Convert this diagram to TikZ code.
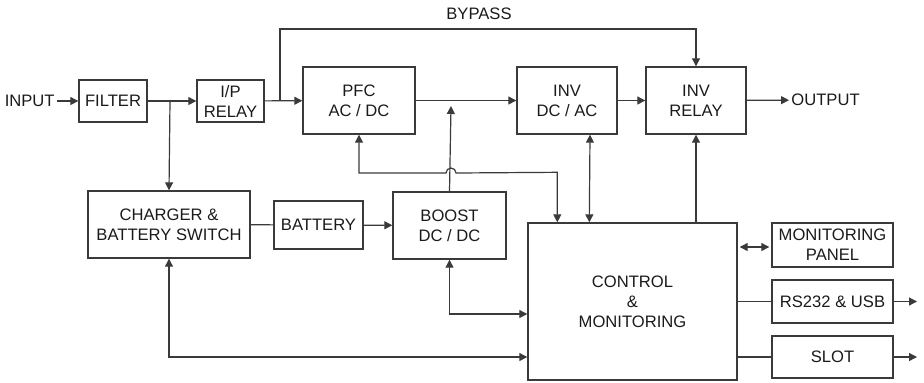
\documentclass[tikz,border=0pt]{standalone}
\usepackage{fontspec}
\setmainfont{Liberation Sans}
\usetikzlibrary{arrows.meta,positioning,calc}
\definecolor{ink}{HTML}{1A1A1A}
\definecolor{wire}{HTML}{3A3A3A}
\tikzset{
  >={Triangle[length=4pt,width=4pt]},
  every node/.style={font=\fontsize{8.3}{10}\selectfont,text=ink},
  blk/.style={draw=wire,line width=0.7pt,align=center,inner sep=0pt},
  bsize/.style 2 args={minimum width=#1*0.5pt,minimum height=#2*0.5pt},
  lbl/.style={inner sep=1pt},
  wire/.style={draw=wire,line width=0.6pt},
  arr/.style={wire,->},
  dbl/.style={wire,<->}
}

\begin{document}
\begin{tikzpicture}[x=0.5pt,y=-0.5pt]
  \useasboundingbox (0,0) rectangle (924,382);
  % power path
  \node[blk,bsize={68}{42}] (filter) at (113,101) {FILTER};
  \node[blk,bsize={67}{42}] (iprelay) at (230.5,101) {I/P\\RELAY};
  \node[blk,bsize={112}{67}] (pfc) at (359,100.5) {PFC\\AC / DC};
  \node[blk,bsize={100}{67}] (inv) at (567,100.5) {INV\\DC / AC};
  \node[blk,bsize={100}{67}] (invrelay) at (696,100.5) {INV\\RELAY};
  \node[blk,bsize={162}{67}] (charger) at (169,224.5) {CHARGER \&\\BATTERY SWITCH};
  \node[blk,bsize={89}{48}] (battery) at (318.5,225) {BATTERY};
  \node[blk,bsize={113}{67}] (boost) at (449.5,225.5) {BOOST\\DC / DC};
  % control side
  \node[blk,bsize={209}{157}] (ctrl) at (632.5,301.5) {CONTROL\\\&\\MONITORING};
  \node[blk,bsize={121}{44}] (panel) at (832.5,245) {MONITORING\\PANEL};
  \node[blk,bsize={121}{43}] (rs) at (832.5,301.5) {RS232 \& USB};
  \node[blk,bsize={121}{42}] (slot) at (832.5,357) {SLOT};

  \node[lbl,anchor=east] (input) at (57,101) {INPUT};
  \node[lbl,anchor=west] (output) at (789,100) {OUTPUT};
  \node[lbl] (bypass) at (479,14) {BYPASS};

  \coordinate (splitin) at (170,101);
  \coordinate (splitby) at (280,101);
  \coordinate (bytop) at (280,29);
  \coordinate (dcbus) at (451,106);
  \coordinate (rsout) at (917,301.5);
  \coordinate (slotout) at (917,357);

  \draw[arr] (input) -- (filter);
  \draw[arr] (filter) -- (iprelay);
  \draw[arr] (splitin) -- (charger.north);
  \draw[arr] (iprelay) -- (pfc);
  \draw[arr] (splitby) -- (bytop) -| (invrelay.north);
  \draw[arr] (pfc) -- (inv);
  \draw[arr] (inv) -- (invrelay);
  \draw[arr] (invrelay) -- (output);
  \draw[wire] (charger) -- (battery);
  \draw[arr] (battery) -- (boost);
  \draw[arr] (boost.north) -- (dcbus);

  % control links
  \draw[dbl] ($(ctrl.north west)+(30,0)$) -- ++(0,-50) -- (456,173) arc (0:-180:5)
    -| (pfc.south);
  \draw[dbl] ($(inv.south)+(23,0)$) -- ($(ctrl.north west)+(62,0)$);
  \draw[arr] (invrelay.south |- ctrl.north) -- (invrelay.south);
  \draw[dbl] (boost.south) |- ($(ctrl.west)+(0,12.5)$);
  \draw[dbl] (charger.south) |- (ctrl.west |- slot);
  \draw[dbl] ([xshift=1pt]ctrl.east |- 0,247) -- ([xshift=-1pt]panel.west |- 0,247);
  \draw[wire] (ctrl.east |- rs) -- (rs);
  \draw[arr] (rs) -- (rsout);
  \draw[wire] (ctrl.east |- slot) -- (slot);
  \draw[arr] (slot) -- (slotout);
\end{tikzpicture}
\end{document}
